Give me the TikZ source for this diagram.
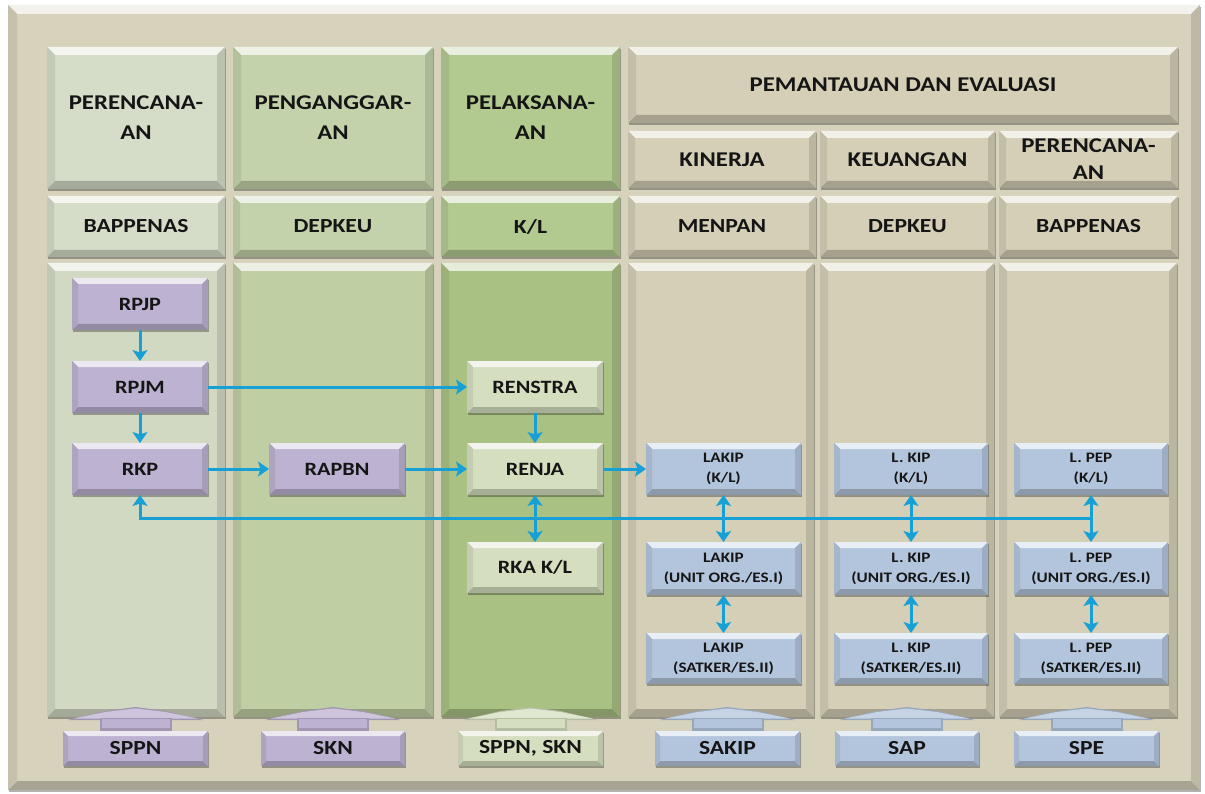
\documentclass[tikz,border=0pt]{standalone}
\usepackage{fontspec}
\setmainfont[FakeStretch=1.18]{Carlito}
\usetikzlibrary{arrows.meta,shadows,calc}
\definecolor{framec}{HTML}{D7D2BC}
\definecolor{c1h}{HTML}{D5DCC8}
\definecolor{c1b}{HTML}{D2D9C3}
\definecolor{c2h}{HTML}{C4D2AB}
\definecolor{c2b}{HTML}{C0CEA4}
\definecolor{c3h}{HTML}{B2C990}
\definecolor{c3b}{HTML}{A9C182}
\definecolor{beig}{HTML}{D4CFB6}
\definecolor{purp}{HTML}{BDB2D1}
\definecolor{grn}{HTML}{D5DFC0}
\definecolor{blu}{HTML}{B3C5DD}
\definecolor{arr}{HTML}{17A0D6}
\definecolor{txt}{HTML}{151515}
\def\bevw{7}
\newcommand\bevpaint[1]{%
\fill[#1!30!white] (path picture bounding box.north west) -- (path picture bounding box.north east) -- ([shift={(-\bevw pt,-\bevw pt)}]path picture bounding box.north east) -- ([shift={(\bevw pt,-\bevw pt)}]path picture bounding box.north west) -- cycle;
\fill[#1!78!black] (path picture bounding box.south west) -- (path picture bounding box.south east) -- ([shift={(-\bevw pt,\bevw pt)}]path picture bounding box.south east) -- ([shift={(\bevw pt,\bevw pt)}]path picture bounding box.south west) -- cycle;
\fill[#1!92!black] (path picture bounding box.north west) -- ([shift={(\bevw pt,-\bevw pt)}]path picture bounding box.north west) -- ([shift={(\bevw pt,\bevw pt)}]path picture bounding box.south west) -- (path picture bounding box.south west) -- cycle;
\fill[#1!88!black] (path picture bounding box.north east) -- ([shift={(-\bevw pt,-\bevw pt)}]path picture bounding box.north east) -- ([shift={(-\bevw pt,\bevw pt)}]path picture bounding box.south east) -- (path picture bounding box.south east) -- cycle;
}
\newcommand\mybox[7]{\node[#6, minimum width={(#4)-(#2)}, minimum height={(#5)-(#3)}] (#1) at ({((#2)+(#4))/2},{((#3)+(#5))/2}) {#7};}
\newcommand\mystub[2]{%
\fill[#2!85!black] ($(#1.north)+(-68,-11)$) -- ($(#1.north)+(-30,-20)$) -- ($(#1.north)+(0,-24)$) -- ($(#1.north)+(30,-20)$) -- ($(#1.north)+(68,-11)$) -- cycle;
\fill[#2!75!white] ($(#1.north)+(-62,-12.5)$) -- ($(#1.north)+(-30,-19)$) -- ($(#1.north)+(0,-22.5)$) -- ($(#1.north)+(30,-19)$) -- ($(#1.north)+(62,-12.5)$) -- cycle;
\fill[#2!85!black] ($(#1.north)+(-36,-13)$) rectangle ($(#1.north)+(36,0)$);
\fill[#2] ($(#1.north)+(-34,-12)$) rectangle ($(#1.north)+(34,-3)$);
}
\tikzset{
  bw/.code={\def\bevw{#1}},
  bx/.style={rectangle, inner sep=0pt, outer sep=0pt, align=center, text=txt, fill=#1, path picture={\bevpaint{#1}},
     drop shadow={shadow xshift=1.2pt, shadow yshift=-1.8pt, opacity=.3, fill=black}},
  fHead/.style={font=\fontsize{21}{30}\selectfont\bfseries},
  fPem/.style={font=\fontsize{21}{24}\selectfont\bfseries},
  fSub/.style={font=\fontsize{21}{27}\selectfont\bfseries},
  fRow/.style={font=\fontsize{20}{24}\selectfont\bfseries},
  fIn/.style={font=\fontsize{18.8}{22}\selectfont\bfseries},
  fBl/.style={font=\fontsize{14.5}{20}\selectfont\bfseries},
  fLab/.style={font=\fontsize{20}{24}\selectfont\bfseries},
  flow/.style={line width=3pt, draw=arr, -{Stealth[length=11pt,width=15pt,inset=2.5pt]}},
  flow2/.style={line width=3pt, draw=arr, {Stealth[length=11pt,width=15pt,inset=2.5pt]}-{Stealth[length=11pt,width=15pt,inset=2.5pt]}},
}
\begin{document}
\begin{tikzpicture}[x=1pt,y=-1pt]
\useasboundingbox (0,0) rectangle (1205,794);
\fill[white] (0,0) rectangle (1205,794);
% outer frame
\mybox{frame}{8}{5}{1200}{790}{bx=framec,bw=9}{}
% column 1
\mybox{h1}{47}{47}{225}{189}{bx=c1h,bw=8,fHead}{PERENCANA-\\AN}
\mybox{r1}{47}{196}{225}{257}{bx=c1h,bw=7,fRow}{BAPPENAS}
\mybox{b1}{47}{263}{225}{717}{bx=c1b,bw=8}{}
% column 2
\mybox{h2}{233}{47}{433}{189}{bx=c2h,bw=8,fHead}{PENGANGGAR-\\AN}
\mybox{r2}{233}{196}{433}{257}{bx=c2h,bw=7,fRow}{DEPKEU}
\mybox{b2}{233}{263}{433}{717}{bx=c2b,bw=8}{}
% column 3
\mybox{h3}{441}{47}{620}{189}{bx=c3h,bw=8,fHead}{PELAKSANA-\\AN}
\mybox{r3}{441}{196}{620}{257}{bx=c3h,bw=7,fRow}{K/L}
\mybox{b3}{441}{263}{620}{717}{bx=c3b,bw=8}{}
% monitoring columns
\mybox{pem}{628}{47}{1178}{123}{bx=beig,bw=8,fPem}{PEMANTAUAN DAN EVALUASI}
\mybox{h4}{628}{131}{816}{188}{bx=beig,bw=7,fSub}{KINERJA}
\mybox{h5}{820}{131}{995}{188}{bx=beig,bw=7,fSub}{KEUANGAN}
\mybox{h6}{999}{131}{1178}{188}{bx=beig,bw=7,fSub}{PERENCANA-\\AN}
\mybox{r4}{628}{196}{816}{257}{bx=beig,bw=7,fRow}{MENPAN}
\mybox{r5}{820}{196}{995}{257}{bx=beig,bw=7,fRow}{DEPKEU}
\mybox{r6}{999}{196}{1178}{257}{bx=beig,bw=7,fRow}{BAPPENAS}
\mybox{b4}{628}{263}{814}{717}{bx=beig,bw=8}{}
\mybox{b5}{820}{263}{994}{717}{bx=beig,bw=8}{}
\mybox{b6}{999}{263}{1177}{717}{bx=beig,bw=8}{}
% planning boxes
\mybox{rpjp}{72}{278}{208}{330}{bx=purp,bw=6,fIn}{RPJP}
\mybox{rpjm}{72}{361}{208}{413}{bx=purp,bw=6,fIn}{RPJM}
\mybox{rkp}{72}{443}{208}{495}{bx=purp,bw=6,fIn}{RKP}
\mybox{rapbn}{269}{443}{405}{495}{bx=purp,bw=6,fIn}{RAPBN}
\mybox{renstra}{467}{361}{603}{413}{bx=grn,bw=6,fIn}{RENSTRA}
\mybox{renja}{467}{443}{603}{495}{bx=grn,bw=6,fIn}{RENJA}
\mybox{rka}{467}{542}{603}{593}{bx=grn,bw=6,fIn}{RKA K/L}
% report boxes
\mybox{la1}{646}{443}{801}{495}{bx=blu,bw=6,fBl}{LAKIP\\(K/L)}
\mybox{la2}{646}{542}{801}{595}{bx=blu,bw=6,fBl}{LAKIP\\(UNIT ORG./ES.I)}
\mybox{la3}{646}{633}{801}{684}{bx=blu,bw=6,fBl}{LAKIP\\(SATKER/ES.II)}
\mybox{lk1}{834}{443}{988}{495}{bx=blu,bw=6,fBl}{L. KIP\\(K/L)}
\mybox{lk2}{834}{542}{988}{595}{bx=blu,bw=6,fBl}{L. KIP\\(UNIT ORG./ES.I)}
\mybox{lk3}{834}{633}{988}{684}{bx=blu,bw=6,fBl}{L. KIP\\(SATKER/ES.II)}
\mybox{lp1}{1014}{443}{1168}{495}{bx=blu,bw=6,fBl}{L. PEP\\(K/L)}
\mybox{lp2}{1014}{542}{1168}{595}{bx=blu,bw=6,fBl}{L. PEP\\(UNIT ORG./ES.I)}
\mybox{lp3}{1014}{633}{1168}{684}{bx=blu,bw=6,fBl}{L. PEP\\(SATKER/ES.II)}
% bottom labels
\mybox{sppn}{63}{731}{208}{766}{bx=purp,bw=5,fLab}{SPPN}
\mybox{skn}{261}{731}{405}{766}{bx=purp,bw=5,fLab}{SKN}
\mybox{sk}{458}{731}{603}{766}{bx=grn,bw=5,fLab}{SPPN, SKN}
\mybox{sakip}{655}{731}{800}{766}{bx=blu,bw=5,fLab}{SAKIP}
\mybox{sap}{835}{731}{979}{766}{bx=blu,bw=5,fLab}{SAP}
\mybox{spe}{1014}{731}{1159}{766}{bx=blu,bw=5,fLab}{SPE}
\mystub{sppn}{purp}
\mystub{skn}{purp}
\mystub{sk}{grn}
\mystub{sakip}{blu}
\mystub{sap}{blu}
\mystub{spe}{blu}
% connectors
\draw[flow] (rpjp.south) -- (rpjm.north);
\draw[flow] (rpjm.south) -- (rkp.north);
\draw[flow] (rpjm.east) -- (renstra.west);
\draw[flow] (rkp.east) -- (rapbn.west);
\draw[flow] (rapbn.east) -- (renja.west);
\draw[flow] (renstra.south) -- (renja.north);
\draw[flow] (renja.east) -- (la1.west);
\coordinate (fbR) at ($(lp1.south)!.5!(lp2.north)$);
\draw[flow] (fbR) -- (fbR -| rkp.south) -- (rkp.south);
\draw[flow2] (renja.south) -- (rka.north);
\draw[flow2] (la1.south) -- (la2.north);
\draw[flow2] (la2.south) -- (la3.north);
\draw[flow2] (lk1.south) -- (lk2.north);
\draw[flow2] (lk2.south) -- (lk3.north);
\draw[flow2] (lp1.south) -- (lp2.north);
\draw[flow2] (lp2.south) -- (lp3.north);
\end{tikzpicture}
\end{document}
